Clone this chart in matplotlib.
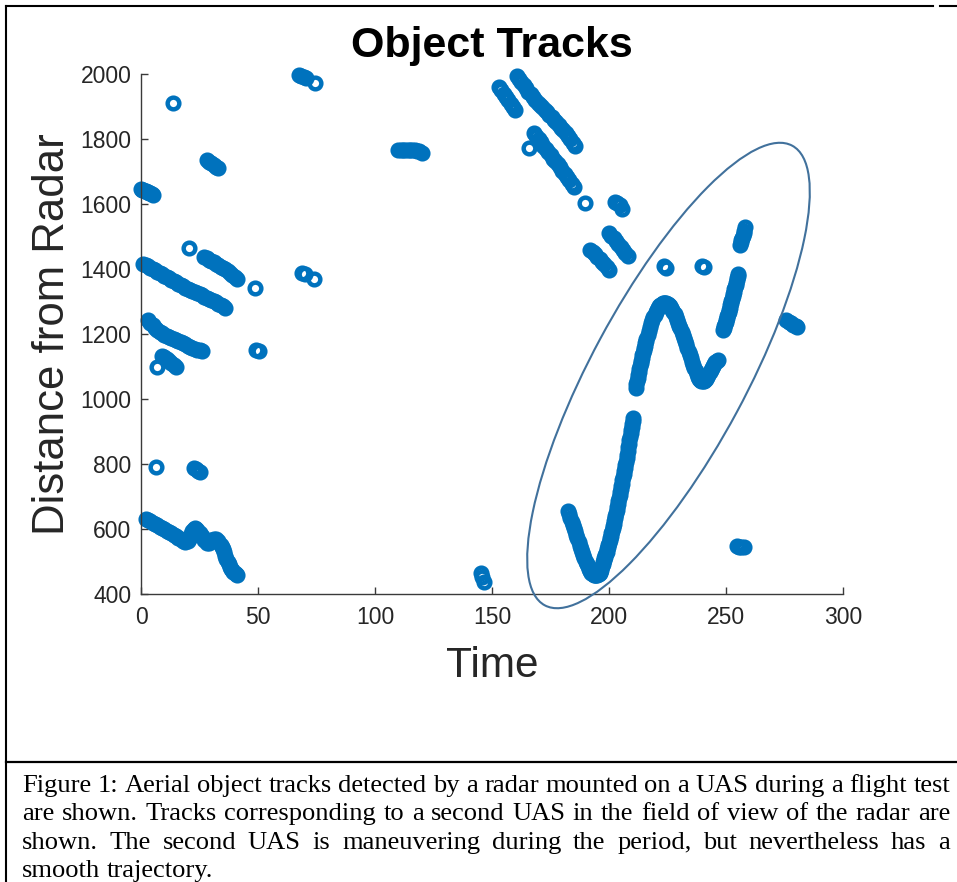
import matplotlib.pyplot as plt
from matplotlib.patches import Ellipse

# --- TRACK DATA (time, distance from radar) ---
a_t = [0, 0.5, 1, 1.5, 2, 2.5, 3, 3.5, 4, 4.5, 5]
a_r = [1645, 1644, 1642, 1641, 1640, 1638, 1636, 1635, 1633, 1631, 1629]

b_t = [13.5]
b_r = [1912]

c_t = [28, 29, 30, 31, 32, 33]
c_r = [1734, 1730, 1725, 1720, 1715, 1711]

d_t = [67.5, 68.5, 69.5, 70.5, 74.5]
d_r = [1998, 1995, 1991, 1987, 1971]

e_t = list(range(1, 37))
e_r = [1416, 1412, 1408, 1404, 1400, 1396, 1392, 1388, 1384, 1380, 1376, 1371,
       1367, 1363, 1359, 1355, 1351, 1347, 1343, 1340, 1336, 1333, 1329, 1326,
       1322, 1319, 1315, 1312, 1308, 1305, 1301, 1297, 1293, 1289, 1285, 1280]

f_t = [20.6]
f_r = [1464]

g_t = list(range(27, 42))
g_r = [1437, 1433, 1429, 1425, 1421, 1416, 1411, 1407, 1403, 1399, 1394, 1389,
       1383, 1376, 1369]

h_t = [48.7]
h_r = [1341]

i_t = list(range(3, 27))
i_r = [1243, 1235, 1228, 1220, 1212, 1206, 1202, 1198, 1195, 1191, 1188, 1184,
       1181, 1178, 1175, 1172, 1168, 1164, 1161, 1158, 1155, 1152, 1150, 1147]

j_t = [6.8, 9, 10, 11, 12, 13, 14, 15]
j_r = [1098, 1133, 1128, 1122, 1117, 1111, 1105, 1100]

k_t = [49, 50.5]
k_r = [1152, 1148]

l_t = [6.4]
l_r = [792]

m_t = [22.5, 23.5, 24.5, 25.2]
m_r = [787, 784, 779, 776]

n_t = [2, 3, 4, 5, 6, 7, 8, 9, 10, 11, 12, 13, 14, 15, 16, 17, 18, 19, 20,
       20.5, 21, 21.5, 22, 22.5, 23, 23.5, 24,
       25, 26, 27, 28, 29, 30, 31, 32, 33, 34,
       34.5, 35, 35.5, 36, 36.5, 37, 37.5, 38, 38.5, 39, 39.5, 40, 40.5, 41]
n_r = [632, 628, 624, 620, 616, 611, 607, 603, 599, 595, 591, 587, 583, 578, 573, 568, 564, 561, 562,
       568, 576, 585, 593, 599, 602, 600, 596,
       588, 578, 566, 557, 558, 565, 570, 569, 562, 552,
       545, 537, 528, 518, 508, 499, 491, 484, 478, 474, 469, 465, 461, 458]

o_t = [145.3, 145.8, 146.5]
o_r = [464, 452, 437]

p_t = [110, 111, 112, 113, 114, 115, 116, 117, 118, 119, 120]
p_r = [1767, 1767, 1767, 1766, 1766, 1766, 1766, 1765, 1764, 1762, 1758]

q_t = [153, 154, 155, 156, 157, 158, 159, 160]
q_r = [1960, 1950, 1940, 1929, 1919, 1909, 1898, 1890]

r_t = [160.5, 161.5, 162.5, 163.5, 164.5, 165.5, 166.5, 167.5, 168.5, 169.5,
       170.5, 171.5, 172.5, 173.5, 174.5, 175.5, 176.5, 177.5, 178.5, 179.5,
       180.5, 181.5, 182.5, 183.5, 184.5, 185.5]
r_r = [1995, 1986, 1976, 1966, 1956, 1946, 1937, 1928, 1920, 1912,
       1905, 1897, 1890, 1882, 1875, 1867, 1859, 1851, 1843, 1835,
       1827, 1818, 1809, 1799, 1789, 1778]

s_t = [166, 168, 169, 170, 171, 172, 173, 174, 175, 176, 177, 178, 179, 180,
       181, 182, 183, 184, 185]
s_r = [1772, 1820, 1810, 1800, 1790, 1780, 1770, 1760, 1750, 1740, 1731, 1722,
       1713, 1703, 1693, 1683, 1673, 1663, 1653]

t_t = [189.7]
t_r = [1602]

u_t = [202.5, 203.5, 204.5, 205.5]
u_r = [1607, 1603, 1598, 1585]

v_t = [192, 193, 194, 195, 196, 197, 198, 199, 200]
v_r = [1460, 1453, 1445, 1438, 1430, 1423, 1415, 1407, 1398]

w_t = [200, 201, 202, 203, 204, 205, 206, 207, 208]
w_r = [1512, 1503, 1494, 1485, 1476, 1467, 1458, 1449, 1440]

# second UAS, the check-mark track
x_t = [182.5, 183, 183.5, 184, 184.5, 185, 185.5, 186, 186.5, 187, 187.5, 188,
       188.5, 189, 189.5, 190, 190.5, 191, 191.5, 192, 192.5, 193, 193.5, 194,
       194.5, 195, 195.5, 195.75, 196, 196.25, 196.5, 196.75, 197, 197.25, 197.5,
       197.75, 198, 198.25, 198.5, 198.75, 199, 199.25, 199.5, 199.75, 200,
       200.25, 200.5, 200.75, 201, 201.25, 201.5, 201.75, 202, 202.25, 202.5,
       202.75, 203, 203.25, 203.5, 203.75, 204, 204.25, 204.5, 204.75, 205,
       205.25, 205.5, 205.75, 206, 206.25, 206.5, 206.75, 207, 207.25, 207.5,
       207.75, 208, 208.25, 208.5, 208.75, 209, 209.25, 209.5, 209.75, 210,
       210.2, 210.4]
x_r = [655, 645, 634, 623, 613, 603, 593, 582, 571, 560, 549, 539,
       529, 519, 510, 500, 492, 485, 478, 471, 465, 461, 459, 458,
       459, 460, 462, 463, 464, 469, 474, 480, 486, 492, 498,
       504, 510, 515, 520, 525, 530, 537, 544, 551, 558,
       565, 573, 580, 588, 595, 602, 609, 616, 624, 633,
       641, 650, 659, 668, 677, 686, 695, 704, 713, 722,
       731, 740, 750, 759, 768, 778, 787, 797, 807, 818,
       829, 840, 851, 862, 873, 884, 894, 904, 914, 924,
       933, 942]

# second UAS, the hump track
y_t = [211.5, 211.75, 212, 212.25, 212.5, 212.75, 213, 213.25, 213.5, 213.75,
       214, 214.25, 214.5, 214.75, 215, 215.25, 215.5, 215.75, 216, 216.5, 217,
       217.5, 218, 218.5, 219, 219.5, 220, 220.5, 221, 221.5, 222, 222.5, 223,
       223.5, 224, 224.5, 225, 225.5, 226, 226.5, 227, 227.5, 228, 228.5, 229,
       229.5, 230, 230.5, 231, 231.5, 232, 232.5, 233, 233.5, 234, 234.5, 235,
       235.5, 236, 236.5, 237, 237.5, 238, 238.5, 239, 239.5, 240, 240.5, 241,
       241.5, 242, 242.5, 243, 243.5, 244, 244.5, 245, 245.5, 246, 246.5]
y_r = [1035, 1045, 1055, 1065, 1075, 1084, 1093, 1102, 1110, 1118,
       1126, 1134, 1142, 1150, 1157, 1164, 1171, 1178, 1185, 1198, 1210,
       1222, 1233, 1243, 1252, 1260, 1268, 1275, 1281, 1286, 1290, 1293, 1295,
       1296, 1296, 1295, 1292, 1289, 1285, 1279, 1274, 1268, 1262, 1253, 1244,
       1235, 1226, 1217, 1207, 1198, 1188, 1178, 1168, 1157, 1146, 1135, 1125,
       1115, 1105, 1095, 1086, 1077, 1069, 1063, 1058, 1055, 1054, 1055, 1058,
       1063, 1069, 1075, 1082, 1089, 1096, 1102, 1108, 1113, 1117, 1121]

z_t = [248.8, 249.1, 249.3, 249.6, 249.8, 250.1, 250.3, 250.6, 250.8, 251.1,
       251.3, 251.6, 251.8, 252.1, 252.3, 252.6, 252.8, 253.1, 253.3, 253.6,
       253.8, 254.1, 254.3, 254.6, 254.8, 255.1, 255.3]
z_r = [1212, 1218, 1224, 1230, 1236, 1242, 1248, 1255, 1261, 1268,
       1274, 1281, 1288, 1295, 1302, 1309, 1316, 1323, 1330, 1337,
       1344, 1351, 1358, 1365, 1372, 1379, 1386]

aa_t = [256, 256.3, 256.6, 256.9, 257.2, 257.5, 257.8, 258.2]
aa_r = [1475, 1482, 1489, 1496, 1503, 1510, 1517, 1530]

ab_t = [223.5, 224.5, 239.8, 240.5]
ab_r = [1408, 1404, 1408, 1406]

ac_t = [275.8, 276.8, 277.8, 278.8, 279.8, 280.3]
ac_r = [1242, 1238, 1234, 1229, 1224, 1221]

ad_t = [254.5, 255.5, 256.5, 257.5]
ad_r = [547, 546, 546, 546]

ae_t = [68.8, 70, 73.8]
ae_r = [1389, 1384, 1369]

tracks = [(a_t, a_r), (b_t, b_r), (c_t, c_r), (d_t, d_r), (e_t, e_r), (f_t, f_r),
          (g_t, g_r), (h_t, h_r), (i_t, i_r), (j_t, j_r), (k_t, k_r), (l_t, l_r),
          (m_t, m_r), (n_t, n_r), (o_t, o_r), (p_t, p_r), (q_t, q_r), (r_t, r_r),
          (s_t, s_r), (t_t, t_r), (u_t, u_r), (v_t, v_r), (w_t, w_r), (x_t, x_r),
          (y_t, y_r), (z_t, z_r), (aa_t, aa_r), (ab_t, ab_r), (ac_t, ac_r),
          (ad_t, ad_r), (ae_t, ae_r)]

x_ticks = [0, 50, 100, 150, 200, 250, 300]
y_ticks = [400, 600, 800, 1000, 1200, 1400, 1600, 1800, 2000]

caption_lines = [
    "Figure 1: Aerial object tracks detected by a radar mounted on a UAS during a flight test",
    "are shown. Tracks corresponding to a second UAS in the field of view of the radar are",
    "shown. The second UAS is maneuvering during the period, but nevertheless has a",
    "smooth trajectory.",
]

# --- FIGURE ---
W, H = 957, 882
fig = plt.figure(figsize=(W / 100, H / 100), dpi=100)
fig.patch.set_facecolor('white')

ax_col = '#3a3a3a'
ax = fig.add_axes([141 / W, 1 - 594 / H, 702 / W, 520 / H])
for tt, rr in tracks:
    ax.plot(tt, rr, 'o', mfc='none', mec='#0072BD', ms=8.4, mew=3.2, clip_on=False)

ax.set_xlim(0, 300)
ax.set_ylim(400, 2000)
ax.set_xticks(x_ticks)
ax.set_yticks(y_ticks)
for side in ['top', 'right']:
    ax.spines[side].set_visible(False)
for side in ['left', 'bottom']:
    ax.spines[side].set_color(ax_col)
    ax.spines[side].set_linewidth(1.0)
ax.tick_params(direction='in', length=5, width=1.0, color=ax_col,
               labelsize=16.5, labelcolor='#262626')
ax.tick_params(axis='x', pad=9)
ax.tick_params(axis='y', pad=7)
for lab in ax.get_xticklabels() + ax.get_yticklabels():
    lab.set_family('Liberation Sans')

ax.set_title('Object Tracks', fontsize=31, fontweight='bold',
             family='Liberation Sans', pad=12)
ax.set_xlabel('Time', fontsize=30.5, family='Liberation Sans', color='#262626', labelpad=12)
ax.set_ylabel('Distance from Radar', fontsize=31.5, family='Liberation Sans',
              color='#262626', labelpad=5)

# overlay in pixel coordinates for the page frame, the hand-drawn ellipse and caption
ov = fig.add_axes([0, 0, 1, 1])
ov.set_xlim(0, W)
ov.set_ylim(0, H)
ov.axis('off')

ov.plot([6, 6], [0, H - 6], color='black', lw=1.5)
ov.plot([6, 933], [H - 6, H - 6], color='black', lw=1.5)
ov.plot([940, W], [H - 6, H - 6], color='black', lw=1.5)
ov.plot([6, W], [H - 762, H - 762], color='black', lw=1.6)

ov.add_patch(Ellipse((668.5, H - 375.5), width=522, height=155, angle=61.7,
                     fill=False, edgecolor='#41719C', lw=1.5))

# caption, justified like the source document
fig.canvas.draw()
renderer = fig.canvas.get_renderer()
probe = ov.text(0, 0, caption_lines[0], fontsize=18, family='Liberation Serif')
fs = 18 * (950 - 22) / probe.get_window_extent(renderer).width
probe.remove()
baselines = [792, 820, 849, 877]
for i, line in enumerate(caption_lines):
    words = line.split()
    arts = [ov.text(0, 0, wd, fontsize=fs, family='Liberation Serif', va='baseline')
            for wd in words]
    widths = [a.get_window_extent(renderer).width for a in arts]
    if i < len(caption_lines) - 1:
        gap = (950 - 22 - sum(widths)) / (len(words) - 1)
    else:
        gap = fs * 100 / 72 * 0.25
    xpos = 22
    for a, wd in zip(arts, widths):
        a.set_position((xpos, H - baselines[i]))
        xpos += wd + gap

fig.savefig('out.png', dpi=100)
